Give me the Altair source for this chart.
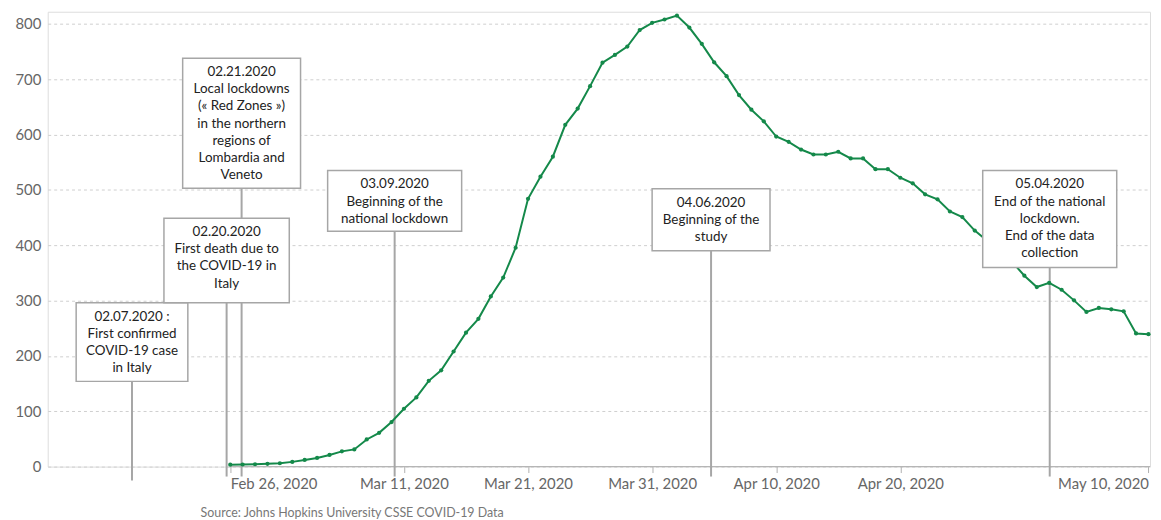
import altair as alt
import pandas as pd

# ---- data ----
start_date = "2020-02-26"
deaths_7day_avg = [3.5, 3.8, 4.2, 5, 6, 8.5, 12, 15.6, 21, 27.5, 31, 49, 61, 80.5, 104.5,
                   125, 155, 174, 208, 242, 267, 307.5, 341.6, 395.5, 484, 524, 560, 617.6,
                   647, 687.6, 730, 744, 759, 789, 802, 808, 815, 793.5, 764, 730.7, 705.6,
                   671.5, 645, 624, 596.5, 587, 573, 564, 564, 569, 557, 557, 537.5, 537.5,
                   522, 512, 492, 483, 461, 451, 426.5, 408, 388, 370, 345, 324.5, 332,
                   319.6, 300.4, 279.5, 286.7, 284.2, 280.6, 240.6, 239.3]

y_ticks = [0, 100, 200, 300, 400, 500, 600, 700, 800]
x_tick_dates = [(2, 26), (3, 11), (3, 21), (3, 31), (4, 10), (4, 20), (5, 10)]

ann_labels = [
    ["02.07.2020 :", "First confirmed", "COVID-19  case", "in Italy"],
    ["02.20.2020", "First death due to", "the COVID-19 in", "Italy"],
    ["02.21.2020", "Local lockdowns", "(« Red Zones »)", "in the northern", "regions of",
     "Lombardia and", "Veneto"],
    ["03.09.2020", "Beginning of the", "national lockdown"],
    ["04.06.2020", "Beginning of the", "study"],
    ["05.04.2020", "End of the national", "lockdown.", "End of the data", "collection"],
]
ann_anchor = ["2020-02-18T02:00", "2020-02-25T17:00", "2020-02-26T22:00",
              "2020-03-10T06:00", "2020-04-04T18:00", "2020-05-02T01:00"]
ann_box_top = [296, 449, 738, 535, 502, 535]
ann_box_bottom = [154, 296, 503, 425.5, 390, 360]
ann_half_days = [4.5, 5.05, 4.75, 5.4, 4.75, 5.4]
ann_rule_bottom = [-25, -18, -18, -18, -18, -18]

source_text = "Source: Johns Hopkins University CSSE COVID-19 Data"

# ---- tables ----
series = pd.DataFrame({
    "date": pd.date_range(start_date, periods=len(deaths_7day_avg), freq="D"),
    "deaths": deaths_7day_avg,
})

ann = pd.DataFrame({
    "anchor": pd.to_datetime(ann_anchor),
    "label": ann_labels,
    "box_top": ann_box_top,
    "box_bottom": ann_box_bottom,
    "rule_bottom": ann_rule_bottom,
})
half = pd.to_timedelta(pd.Series(ann_half_days), unit="D")
ann["box_left"] = ann["anchor"] - half
ann["box_right"] = ann["anchor"] + half

axis_line = pd.DataFrame({
    "x": [pd.Timestamp(start_date)],
    "x2": [pd.Timestamp("2020-05-10T03:00")],
    "y": [0],
})

GREEN = "#14894a"
GRAY = "#a6a6a6"

x_scale = alt.Scale(domain=[alt.DateTime(year=2020, month=2, date=11, hours=7),
                            alt.DateTime(year=2020, month=5, date=10, hours=3)])
y_scale = alt.Scale(domain=[0, 822], nice=False)

x_axis = alt.Axis(
    values=[alt.DateTime(year=2020, month=m, date=d) for m, d in x_tick_dates],
    format="%b %d, %Y", title=None, grid=False, domain=False,
    ticks=True, tickSize=6, tickColor="#b0b0b0", tickWidth=1,
    labelFont="Lato", labelFontSize=15, labelColor="#666666", labelPadding=4,
    labelAlign={"condition": [
        {"test": "datum.value < datetime(2020, 1, 27)", "value": "left"},
        {"test": "datum.value > datetime(2020, 4, 1)", "value": "right"}],
        "value": "center"},
)
y_axis = alt.Axis(
    values=y_ticks, title=None, domain=False, ticks=False,
    labelFont="Lato", labelFontSize=15, labelColor="#666666", labelPadding=7,
    grid=True, gridDash=[3, 3], gridColor="#cfcfcf", gridWidth=1,
)

axis_rule = alt.Chart(axis_line).mark_rule(color="#b0b0b0", strokeWidth=1).encode(
    x=alt.X("x:T", scale=x_scale, axis=x_axis),
    x2="x2:T",
    y=alt.Y("y:Q", scale=y_scale, axis=y_axis),
)

rules = alt.Chart(ann).mark_rule(color=GRAY, strokeWidth=2).encode(
    x=alt.X("anchor:T", scale=x_scale),
    y=alt.Y("box_bottom:Q", scale=y_scale),
    y2="rule_bottom:Q",
)

line = alt.Chart(series).mark_line(
    color=GREEN, strokeWidth=2,
    point=alt.OverlayMarkDef(filled=True, size=18, color=GREEN),
).encode(
    x=alt.X("date:T", scale=x_scale),
    y=alt.Y("deaths:Q", scale=y_scale),
)

boxes = alt.Chart(ann).mark_rect(fill="white", stroke=GRAY, strokeWidth=1.5).encode(
    x=alt.X("box_left:T", scale=x_scale),
    x2="box_right:T",
    y=alt.Y("box_top:Q", scale=y_scale),
    y2="box_bottom:Q",
)

texts = alt.Chart(ann).mark_text(
    font="Lato", fontSize=13.5, lineHeight=17.3, color="#222222",
    align="center", baseline="middle", dy=14,
).encode(
    x=alt.X("anchor:T", scale=x_scale),
    y=alt.Y("box_top:Q", scale=y_scale),
    text="label",
)

chart = alt.layer(axis_rule, rules, line, boxes, texts).properties(
    width=1110, height=458,
    autosize=alt.AutoSizeParams(type="none"),
    padding={"left": 40, "top": 2, "right": 3, "bottom": 52},
    title=alt.TitleParams(source_text, orient="bottom", anchor="start", dx=187,
                          offset=16, fontSize=12.5, color="#777777", font="Lato",
                          fontWeight="normal"),
).configure_view(stroke=None).configure(font="Lato")

chart.save("out.html", embed_options={"renderer": "svg", "actions": False})
